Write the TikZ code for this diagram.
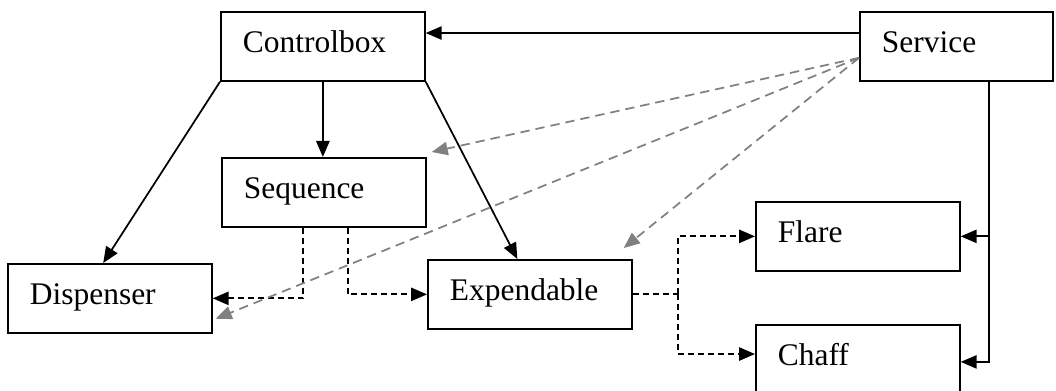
\documentclass[tikz,border=0pt]{standalone}
\usepackage{fontspec}
\setmainfont{Liberation Serif}
\usetikzlibrary{arrows.meta,calc,positioning}

\begin{document}
\begin{tikzpicture}[
  x=0.75pt, y=-0.75pt,
  >={Triangle[length=12pt,width=10pt]},
  block/.style={
    draw=black,
    line width=1.3pt,
    anchor=north west,
    inner xsep=16.5pt,
    inner ysep=0pt,
    text width=120pt,
    text height=30.75pt,
    text depth=21pt,
    align=left,
    font=\fontsize{23.6}{28}\selectfont
  },
  link/.style={
    ->,
    line width=1.3pt,
    black
  },
  call/.style={
    ->,
    line width=1.3pt,
    black,
    dash pattern=on 4.5pt off 3pt
  },
  serve/.style={
    ->,
    line width=1.3pt,
    black!50,
    dash pattern=on 7pt off 4.5pt
  }
]

\useasboundingbox (0,0) rectangle (1056,391);

\node[block] (ctrl) at (220,11) {Controlbox};
\node[block, text width=111.75pt] (svc) at (859,11) {Service};
\node[block] (seq) at (221,157) {Sequence};
\node[block] (disp) at (7,263) {Dispenser};
\node[block] (exp) at (427,259) {Expendable};
\node[block] (flare) at (755,201) {Flare};
\node[block] (chaff) at (755,324) {Chaff};

% Controlbox fan-out
\draw[link]
  ([yshift=10pt]svc.west) -- ([yshift=10pt]ctrl.east);
\draw[link]
  (ctrl.south west) -- ([xshift=-5pt]disp.north);
\draw[link]
  (ctrl.south) -- (ctrl.south |- seq.north);
\draw[link]
  (ctrl.south east) -- ([xshift=-9.4pt]exp.north);

% Sequence calls
\draw[call]
  ([xshift=-15.75pt]seq.south) |- (disp.east);
\draw[call]
  ([xshift=18pt]seq.south) |- (exp.west);

% Expendable split
\coordinate (split) at ($(exp.east)+(45,0)$);
\draw[call, -]
  (exp.east) -- (split);
\draw[call]
  (split) |- (flare.west);
\draw[call]
  (split) |- ([yshift=4pt]chaff.west);

% Service feed
\coordinate (tap) at ([xshift=24.4pt]svc.south);
\draw[link]
  (tap) |- ([yshift=-1.9pt]chaff.east);
\draw[link]
  (tap |- flare.east) -- (flare.east);

% Service dependencies
\coordinate (src) at ([yshift=-8.6pt]svc.west);
\draw[serve]
  (src) -- ([shift={(3.75pt,3.75pt)}]seq.north east);
\draw[serve]
  (src) -- ([shift={(-6.75pt,8.25pt)}]exp.north east);
\draw[serve]
  (src) -- ([shift={(2.25pt,11.25pt)}]disp.south east);

\end{tikzpicture}
\end{document}
